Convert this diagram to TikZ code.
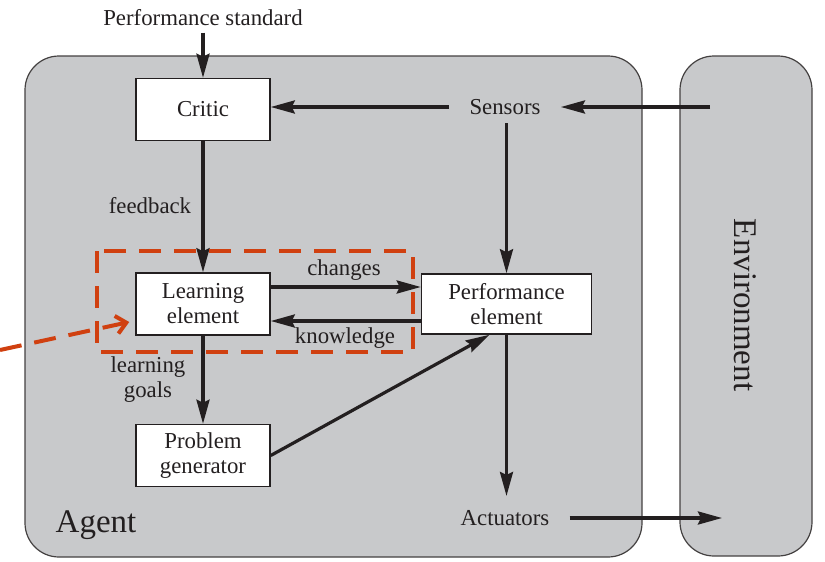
\documentclass[tikz,border=0pt]{standalone}
\usepackage{fontspec}
\setmainfont{Liberation Serif}
\usetikzlibrary{positioning,arrows.meta}
\definecolor{agentgray}{RGB}{200,201,203}
\definecolor{ink}{RGB}{35,31,32}
\definecolor{dashred}{RGB}{208,64,16}

\begin{document}
\begin{tikzpicture}[x=0.5pt, y=-0.5pt,
    font=\fontsize{11.4}{12.5}\selectfont,
    panel/.style={draw=ink!85, fill=agentgray, line width=0.6pt, rounded corners=17pt},
    boxnode/.style={rectangle, draw=ink, fill=white, line width=0.75pt, minimum width=67pt, minimum height=31pt, inner sep=0pt, align=center, text=ink},
    plainnode/.style={inner xsep=10pt, inner ysep=4pt, text=ink},
    flow/.style={draw=ink, line width=1.6pt, -{Stealth[length=12pt, width=6.5pt, inset=1.5pt]}},
    focus/.style={draw=dashred, line width=2pt, dash pattern=on 11pt off 6.5pt},
    ]
    \useasboundingbox (0,0) rectangle (825,562);

    %Panels
    \draw[panel] (25,56) rectangle (642,557);
    \draw[panel] (680,56) rectangle (812,556);

    %Nodes
    \node[boxnode]      (learning)  at (203,304)                    {Learning\\element};
    \node[boxnode]      (critic)    [above=65.5pt of learning]      {Critic};
    \node[boxnode]      (problem)   [below=44pt of learning]        {Problem\\generator};
    \node[boxnode, minimum width=85pt, minimum height=30pt]
                        (perf)      [right=75pt of learning]        {Performance\\element};
    \node[plainnode, inner ysep=3pt] (standard) at (203,18)         {Performance standard};
    \node[plainnode]    (sensors)   at (505,107)                    {Sensors};
    \node[plainnode]    (actuators) at (505,518)                    {Actuators};
    \node[text=ink, font=\fontsize{16.5}{18}\selectfont] (agent) at (96,525) {Agent};
    \node[text=ink, rotate=-90, font=\fontsize{16.5}{18}\selectfont] (envlabel) at (745,305) {Environment};

    %Labels
    \node[text=ink]               (feedback)  at (150,206) {feedback};
    \node[text=ink, align=center] (goals)     at (148,380) {learning\\goals};
    \node[text=ink]               (changes)   at (344,270) {changes};
    \node[text=ink]               (knowledge) at (345,338) {knowledge};

    \coordinate (envin)   at (710,107);
    \coordinate (envout)  at (722,518);
    \coordinate (pointer) at (0,350);

    %Lines
    \draw[flow] (standard) -- (critic);
    \draw[flow] (sensors.west) -- (sensors.west -| critic.east);
    \draw[flow] (envin) -- (sensors);
    \draw[flow] (perf.north |- sensors.south) -- (perf.north);
    \draw[flow] (critic) -- (learning);
    \draw[flow] ([yshift=8.5pt]learning.east) -- ([yshift=8.5pt]perf.west);
    \draw[flow] ([yshift=-8.5pt]perf.west) -- ([yshift=-8.5pt]learning.east);
    \draw[flow] (learning) -- (problem);
    \draw[flow] (problem.east) -- ([xshift=-8.5pt]perf.south);
    \draw[flow] (perf.south) -- ([yshift=3pt]perf.south |- actuators.north);
    \draw[flow] (actuators) -- (envout);

    %Highlight
    \draw[focus] (97,251) rectangle (413,352);
    \draw[focus, -{Straight Barb[length=5pt, width=9pt]}] (pointer) -- ([xshift=-3pt, yshift=-9pt]learning.west);
\end{tikzpicture}
\end{document}
